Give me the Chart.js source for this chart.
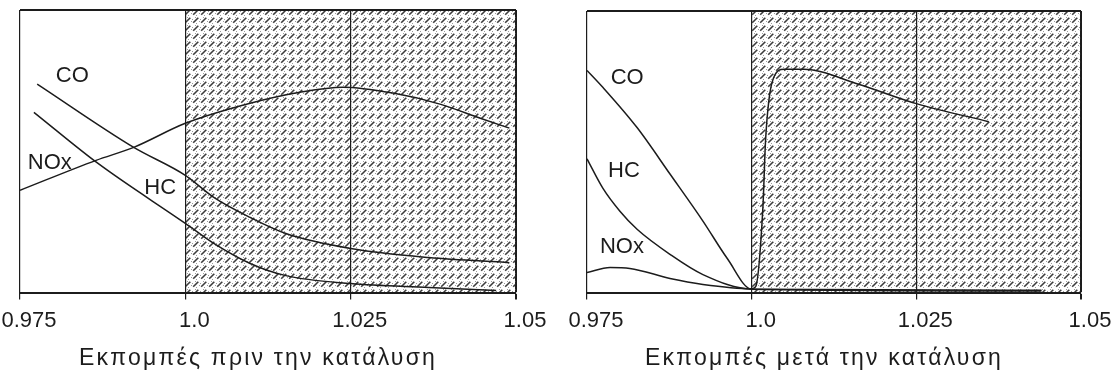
<!DOCTYPE html>
<html lang="el">
<head>
  <meta charset="UTF-8">
  <title>Εκπομπές πριν και μετά την κατάλυση</title>
  <script src="https://cdn.jsdelivr.net/npm/chart.js@4.4.1/dist/chart.umd.min.js"></script>
  <style>
    body {
      margin: 0;
      padding: 0;
      background: #ffffff;
      overflow: hidden;
    }
    .row {
      display: flex;
      width: 1118px;
      height: 373px;
    }
    .panel {
      width: 559px;
      height: 373px;
    }
  </style>
</head>
<body>
  <div class="row">
    <div class="panel"><canvas id="before" width="559" height="373"></canvas></div>
    <div class="panel"><canvas id="after" width="559" height="373"></canvas></div>
  </div>

  <script>
    // άξονας λ (ticks)
    const xTicks = [0.975, 1.0, 1.025, 1.05];
    const xTickLabels = ['0.975', '1.0', '1.025', '1.05'];

    // περιοχή καταλύτη (σκιασμένη)
    const shadeX = [1.0, 1.05];
    const shadeY = [100, 100];

    // πριν την κατάλυση
    const beforeCoX  = [0.9776, 0.9922, 1.0, 1.0043, 1.0098, 1.0152, 1.025, 1.0368, 1.049];
    const beforeCoY  = [73.8, 51.4, 41.5, 33.7, 26.6, 20.9, 15.6, 12.4, 10.6];
    const beforeHcX  = [0.9771, 0.9868, 1.0, 1.0043, 1.0098, 1.0152, 1.025, 1.0368, 1.047];
    const beforeHcY  = [63.8, 45.7, 24.5, 17.4, 10.3, 6.0, 3.2, 1.8, 0.7];
    const beforeNoxX = [0.975, 0.9865, 0.9922, 1.0, 1.0098, 1.0173, 1.0238, 1.0314, 1.0385, 1.0446, 1.049];
    const beforeNoxY = [36.2, 46.8, 51.4, 59.9, 67.0, 70.9, 72.7, 70.6, 66.7, 61.7, 58.2];

    // μετά την κατάλυση
    const afterCoX  = [0.975, 0.9774, 0.9826, 0.9876, 0.9926, 0.9963, 1.0, 1.044];
    const afterCoY  = [78.9, 72.9, 58.6, 42.1, 25.4, 12.1, 1.2, 0.8];
    const afterHcX  = [0.975, 0.9774, 0.98, 0.9826, 0.9876, 0.9926, 1.0, 1.044];
    const afterHcY  = [47.5, 37.1, 28.9, 22.5, 13.6, 6.4, 1.2, 0.6];
    const afterNoxX = [0.975, 0.9785, 0.9815, 0.9876, 0.9926, 1.0, 1.0006, 1.0017, 1.0021, 1.0026, 1.0033, 1.0049, 1.0079, 1.0162, 1.025, 1.036];
    const afterNoxY = [7.1, 8.9, 8.6, 5.0, 2.9, 1.4, 2.1, 30, 53.6, 68, 76.1, 79.3, 79.3, 74, 67.1, 60.7];

    // ετικέτες καμπυλών (σε μονάδες δεδομένων)
    const beforeNames = ['CO', 'HC', 'NOx'];
    const beforeNameX = [0.9829, 0.9962, 0.9795];
    const beforeNameY = [76.6, 37.0, 46.0];
    const afterNames = ['CO', 'HC', 'NOx'];
    const afterNameX = [0.9811, 0.9806, 0.9803];
    const afterNameY = [76.4, 43.2, 16.1];

    const FONT = "'Liberation Sans', Arial, sans-serif";
    const INK = '#1c1c1c';

    function zip(xs, ys) {
      return xs.map((x, i) => ({ x: x, y: ys[i] }));
    }

    // μοτίβο με πλάγιες γραμμούλες και κουκκίδες
    function makeHatch() {
      const c = document.createElement('canvas');
      c.width = 8;
      c.height = 8;
      const g = c.getContext('2d');
      g.fillStyle = 'rgba(90,90,90,0.6)';
      g.fillRect(0, 3, 1, 1);
      g.fillRect(4, 7, 1, 1);
      g.fillRect(7, 5, 1, 1);
      g.fillRect(3, 1, 1, 1);
      g.strokeStyle = 'rgba(40,40,40,0.9)';
      g.lineWidth = 1.6;
      g.beginPath();
      g.moveTo(1.2, 6.8);
      g.lineTo(6.3, 1.7);
      g.stroke();
      return g.createPattern(c, 'repeat');
    }

    const hatch = makeHatch();

    const framePlugin = {
      id: 'frame',
      afterDatasetsDraw(chart) {
        const a = chart.chartArea;
        const ctx = chart.ctx;
        ctx.save();
        ctx.strokeStyle = INK;
        ctx.lineWidth = 2;
        ctx.beginPath();
        ctx.moveTo(a.left, a.top);
        ctx.lineTo(a.right, a.top);
        ctx.stroke();
        ctx.restore();
      }
    };

    // ονόματα καμπυλών και λεζάντα άξονα
    const textPlugin = {
      id: 'curveNames',
      afterDraw(chart, args, opts) {
        const ctx = chart.ctx;
        const xs = chart.scales.x;
        const ys = chart.scales.y;
        const a = chart.chartArea;
        ctx.save();
        ctx.font = '22px ' + FONT;
        ctx.fillStyle = INK;
        ctx.textAlign = 'center';
        ctx.textBaseline = 'middle';
        opts.names.forEach((t, i) => {
          ctx.fillText(t, xs.getPixelForValue(opts.xs[i]), ys.getPixelForValue(opts.ys[i]));
        });
        ctx.font = '23px ' + FONT;
        ctx.letterSpacing = '2.2px';
        ctx.fillText(opts.caption, (a.left + a.right) / 2 - 10, a.bottom + 66);
        ctx.restore();
      }
    };

    function curve(label, xs, ys) {
      return {
        label: label,
        data: zip(xs, ys),
        borderColor: INK,
        borderWidth: 1.5,
        pointRadius: 0,
        fill: false,
        cubicInterpolationMode: 'monotone',
        order: 0
      };
    }

    function makeChart(id, sets, names, pad) {
      new Chart(document.getElementById(id), {
        type: 'line',
        data: {
          datasets: [
            {
              label: 'κατάλυση',
              data: zip(shadeX, shadeY),
              borderWidth: 0,
              pointRadius: 0,
              backgroundColor: hatch,
              fill: 'origin',
              order: 10
            }
          ].concat(sets)
        },
        options: {
          responsive: false,
          animation: false,
          layout: { autoPadding: false, padding: pad },
          plugins: {
            legend: { display: false },
            tooltip: { enabled: false },
            curveNames: names
          },
          scales: {
            x: {
              type: 'linear',
              min: 0.975,
              max: 1.05,
              afterBuildTicks: (axis) => {
                axis.ticks = xTicks.map(v => ({ value: v }));
              },
              afterFit: (axis) => {
                axis.paddingLeft = 0;
                axis.paddingRight = 0;
              },
              ticks: {
                color: INK,
                font: { family: FONT, size: 22 },
                padding: 8,
                maxRotation: 0,
                labelOffset: 9,
                callback: (v) => {
                  const i = xTicks.findIndex(t => Math.abs(t - v) < 1e-9);
                  return i >= 0 ? xTickLabels[i] : '';
                }
              },
              grid: {
                display: true,
                drawOnChartArea: true,
                drawTicks: true,
                tickLength: 7,
                color: INK,
                lineWidth: (c) => (c.index === 3 ? 2 : 1.2)
              },
              border: { display: true, color: INK, width: 2 }
            },
            y: {
              display: false,
              min: 0,
              max: 100
            }
          }
        },
        plugins: [framePlugin, textPlugin]
      });
    }

    makeChart('before', [
      curve('CO', beforeCoX, beforeCoY),
      curve('HC', beforeHcX, beforeHcY),
      curve('NOx', beforeNoxX, beforeNoxY)
    ], { names: beforeNames, xs: beforeNameX, ys: beforeNameY, caption: 'Εκπομπές πριν την κατάλυση' },
      { left: 20, right: 43, top: 10, bottom: 31 });

    makeChart('after', [
      curve('CO', afterCoX, afterCoY),
      curve('HC', afterHcX, afterHcY),
      curve('NOx', afterNoxX, afterNoxY)
    ], { names: afterNames, xs: afterNameX, ys: afterNameY, caption: 'Εκπομπές μετά την κατάλυση' },
      { left: 28, right: 37, top: 11, bottom: 31 });
  </script>
</body>
</html>
